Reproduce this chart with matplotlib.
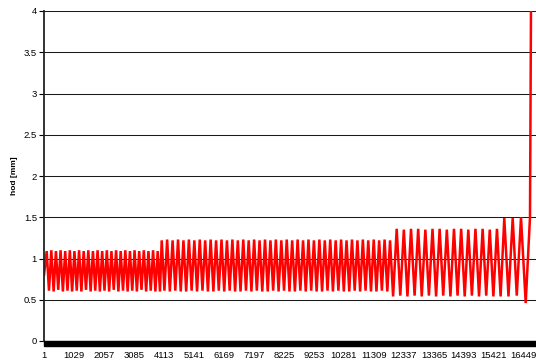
import numpy as np
import matplotlib
matplotlib.use("Agg")
import matplotlib.pyplot as plt
from matplotlib.patches import Rectangle
import matplotlib.transforms as mtransforms

plt.rcParams['font.family'] = ['Liberation Sans', 'DejaVu Sans']

seg1_idx = [1, 93, 172, 252, 331, 410, 489, 569, 648, 727, 806, 886, 965, 1044, 1123,
            1203, 1282, 1361, 1440, 1520, 1599, 1678, 1757, 1837, 1916, 1995, 2074,
            2154, 2233, 2312, 2391, 2471, 2550, 2629, 2708, 2788, 2867, 2946, 3025,
            3105, 3184, 3263, 3342, 3422, 3501, 3580, 3659, 3739, 3818, 3897, 3976]
seg1_val = [0.80, 1.09, 0.61, 1.10, 0.60, 1.09, 0.62, 1.10, 0.60, 1.09, 0.61, 1.10, 0.60,
            1.09, 0.61, 1.10, 0.60, 1.09, 0.62, 1.10, 0.60, 1.09, 0.61, 1.10, 0.60,
            1.09, 0.61, 1.10, 0.60, 1.09, 0.62, 1.10, 0.60, 1.09, 0.61, 1.10, 0.60,
            1.09, 0.61, 1.10, 0.60, 1.09, 0.62, 1.10, 0.60, 1.09, 0.61, 1.10, 0.60,
            1.09, 0.60]

seg2_idx = [4035, 4128, 4221, 4314, 4408, 4501, 4594, 4687, 4780, 4873, 4967, 5060,
            5153, 5246, 5339, 5432, 5525, 5618, 5712, 5805, 5898, 5991, 6084, 6177,
            6271, 6364, 6457, 6550, 6643, 6736, 6830, 6923, 7016, 7109, 7202, 7295,
            7388, 7481, 7575, 7668, 7761, 7854, 7947, 8040, 8134, 8227, 8320, 8413,
            8506, 8599, 8693, 8786, 8879, 8972, 9065, 9158, 9251, 9344, 9438, 9531,
            9624, 9717, 9810, 9903, 9997, 10090, 10183, 10276, 10369, 10462, 10556,
            10649, 10742, 10835, 10928, 11021, 11114, 11207, 11301, 11394, 11487,
            11580, 11673, 11766, 11860]
seg2_val = [1.22, 0.61, 1.23, 0.60, 1.22, 0.61, 1.23, 0.60, 1.22, 0.60, 1.23, 0.61,
            1.22, 0.60, 1.23, 0.61, 1.22, 0.60, 1.23, 0.60, 1.22, 0.61, 1.23, 0.60,
            1.22, 0.61, 1.23, 0.60, 1.22, 0.60, 1.23, 0.61, 1.22, 0.60, 1.23, 0.61,
            1.22, 0.60, 1.23, 0.60, 1.22, 0.61, 1.23, 0.60, 1.22, 0.61, 1.23, 0.60,
            1.22, 0.60, 1.23, 0.61, 1.22, 0.60, 1.23, 0.61, 1.22, 0.60, 1.23, 0.60,
            1.22, 0.61, 1.23, 0.60, 1.22, 0.61, 1.23, 0.60, 1.22, 0.60, 1.23, 0.61,
            1.22, 0.60, 1.23, 0.61, 1.22, 0.60, 1.23, 0.60, 1.22, 0.61, 1.23, 0.60,
            1.22]

seg3_idx = [11965, 12088, 12211, 12333, 12456, 12579, 12701, 12824, 12947, 13070,
            13192, 13315, 13438, 13560, 13683, 13806, 13929, 14051, 14174, 14297,
            14419, 14542, 14665, 14787, 14910, 15033, 15156, 15278, 15401, 15524, 15649]
seg3_val = [0.54, 1.36, 0.55, 1.35, 0.54, 1.36, 0.55, 1.36, 0.54, 1.35, 0.55, 1.36,
            0.54, 1.36, 0.55, 1.35, 0.54, 1.36, 0.55, 1.36, 0.54, 1.35, 0.55, 1.36,
            0.54, 1.36, 0.55, 1.35, 0.54, 1.36, 0.54]

seg4_idx = [15775, 15919, 16063, 16203, 16348, 16509, 16656, 16690]
seg4_val = [1.49, 0.54, 1.49, 0.55, 1.50, 0.46, 1.50, 4.00]

xtick_labels = [1, 1029, 2057, 3085, 4113, 5141, 6169, 7197, 8225, 9253, 10281,
                11309, 12337, 13365, 14393, 15421, 16449]

x = np.array(seg1_idx + seg2_idx + seg3_idx + seg4_idx)
y = np.array(seg1_val + seg2_val + seg3_val + seg4_val)

fig = plt.figure(figsize=(5.36, 3.61), dpi=100)
ax = fig.add_axes([44 / 536, 1 - 341 / 361, 1 - 44 / 536, 330 / 361])

ax.plot(x, y, color='#FF0000', linewidth=1.8, solid_joinstyle='miter')

ax.set_xlim(1, 16862)
ax.set_ylim(0, 4)
ax.set_yticks(np.arange(0, 4.01, 0.5))
ax.set_yticklabels(['0', '0.5', '1', '1.5', '2', '2.5', '3', '3.5', '4'], fontsize=6.8)
ax.set_xticks(xtick_labels)
ax.set_xticklabels([str(v) for v in xtick_labels], fontsize=6.8)
ax.tick_params(axis='x', length=0, pad=7.5)
ax.tick_params(axis='y', length=3.6, width=0.8, pad=1.5, color='black')

ax.grid(axis='y', color='#1a1a1a', linewidth=0.75)
ax.set_axisbelow(True)
for side in ['top', 'right', 'bottom']:
    ax.spines[side].set_visible(False)
ax.spines['left'].set_linewidth(1.3)
ax.spines['left'].set_color('#222222')

# dense category tick marks form a black band under the axis
trans = mtransforms.blended_transform_factory(ax.transAxes, fig.transFigure)
band = Rectangle((0, 1 - 345.5 / 361), 1.0, 4.5 / 361, transform=trans,
                 color='black', clip_on=False, zorder=5)
ax.add_patch(band)

ax.set_ylabel('hod [mm]', fontsize=6.0, fontweight='bold', labelpad=4)

fig.savefig('out.png', dpi=100)
